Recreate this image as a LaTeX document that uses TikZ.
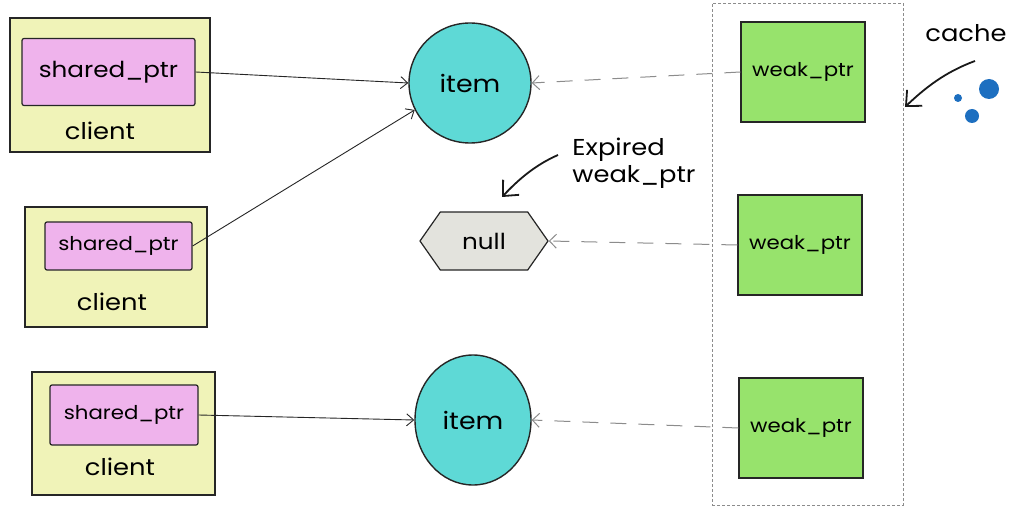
\documentclass[tikz,border=0pt]{standalone}
\usepackage{fontspec}
\setmainfont{Poppins}
\usetikzlibrary{arrows.meta,shapes.geometric,shapes.symbols,positioning}
\definecolor{clientfill}{HTML}{F0F3B8}
\definecolor{sharedfill}{HTML}{EFB3EC}
\definecolor{itemfill}{HTML}{5ED9D6}
\definecolor{weakfill}{HTML}{97E36C}
\definecolor{nullfill}{HTML}{E3E3DD}
\definecolor{dotblue}{HTML}{1D6FC0}
\newcommand{\wide}[1]{\scalebox{1.12}[1]{#1}}
\tikzset{
  clientbox/.style={draw=black!85, line width=1.2pt, fill=clientfill, inner sep=0pt},
  sharedbox/.style={draw=black!85, line width=1.2pt, fill=sharedfill, inner sep=0pt, rounded corners=2pt, font=\fontsize{22}{26}\selectfont},
  itembox/.style={draw=black!85, line width=1.4pt, fill=itemfill, ellipse, inner sep=0pt, font=\fontsize{24}{28}\selectfont},
  weakbox/.style={draw=black!85, line width=1.4pt, fill=weakfill, inner sep=0pt, minimum width=124pt, minimum height=100pt, font=\fontsize{19}{22}\selectfont},
  lbl/.style={font=\fontsize{23}{27}\selectfont},
  ptr/.style={-{Straight Barb[length=7pt,width=12pt]}, line width=0.9pt, black!85},
  weakptr/.style={-{Straight Barb[length=7pt,width=14pt]}, line width=1pt, black!45, dash pattern=on 16pt off 12pt},
  bigarrow/.style={-{Straight Barb[length=12pt,width=22pt]}, line width=1.8pt, black!90},
}
\begin{document}
\begin{tikzpicture}[x=1pt,y=-1pt]
\useasboundingbox (0,0) rectangle (1018,516);
\fill[white] (0,0) rectangle (1018,516);

% cache frame
\node[draw=black!45, densely dashed, line width=0.8pt, minimum width=191pt, minimum height=502pt, inner sep=0pt] (cache) at (807.5,254) {};

% clients
\node[clientbox, minimum width=200pt, minimum height=134pt] (c1) at (110,85) {};
\node[sharedbox, minimum width=173pt, minimum height=67pt] (s1) at (108.5,72) {\wide{shared\_ptr}};
\node[lbl] (l1) at (100,131) {\wide{client}};

\node[clientbox, minimum width=182pt, minimum height=120pt] (c2) at (116,267) {};
\node[sharedbox, minimum width=147pt, minimum height=48pt, font=\fontsize{19}{22}\selectfont] (s2) at (118.5,246) {\wide{shared\_ptr}};
\node[lbl] (l2) at (112,302) {\wide{client}};

\node[clientbox, minimum width=183pt, minimum height=123pt] (c3) at (123.5,433.5) {};
\node[sharedbox, minimum width=148pt, minimum height=60pt, font=\fontsize{19}{22}\selectfont] (s3) at (124,415) {\wide{shared\_ptr}};
\node[lbl] (l3) at (120,467) {\wide{client}};

% items
\node[itembox, minimum width=122pt, minimum height=120pt] (i1) at (470,83) {\wide{item}};
\node[itembox, minimum width=116pt, minimum height=130pt] (i2) at (473,420) {\wide{item}};
\node[draw=black!85, line width=1.2pt, fill=nullfill, signal, signal to=west and east, signal pointer angle=110, minimum width=128pt, minimum height=58pt, inner sep=0pt, font=\fontsize{22}{26}\selectfont] (nl) at (484,241) {\wide{null}};

% weak ptrs
\node[weakbox] (w1) at (803,72) {\wide{weak\_ptr}};
\node[weakbox] (w2) at (800,245) {\wide{weak\_ptr}};
\node[weakbox] (w3) at (801,428) {\wide{weak\_ptr}};

% connectors
\draw[ptr] (s1.east) -- (i1.west);
\draw[ptr] (s2.east) -- (i1.206);
\draw[ptr] (s3.east) -- (i2.west);
\draw[weakptr] (w1.west) -- (i1.east);
\draw[weakptr] (w2.west) -- (nl.east);
\draw[weakptr] (w3.west) -- (i2.east);

% expired label
\node[lbl, align=left, inner sep=0pt] (exp) at (634,163) {\wide{Expired}\\\wide{weak\_ptr}};
\coordinate (exptip) at (502,197);
\draw[bigarrow] (558,155) .. controls (535,165) and (518,180) .. (exptip);

% cache label
\node[lbl] (cl) at (966,33) {\wide{cache}};
\coordinate (cachetip) at (905,107);
\draw[bigarrow] (975,61) .. controls (945,72) and (925,88) .. (cachetip);
\fill[dotblue] (989,89) circle (10);
\fill[dotblue] (972,116) circle (7);
\fill[dotblue] (958,98) circle (4);
\end{tikzpicture}
\end{document}
